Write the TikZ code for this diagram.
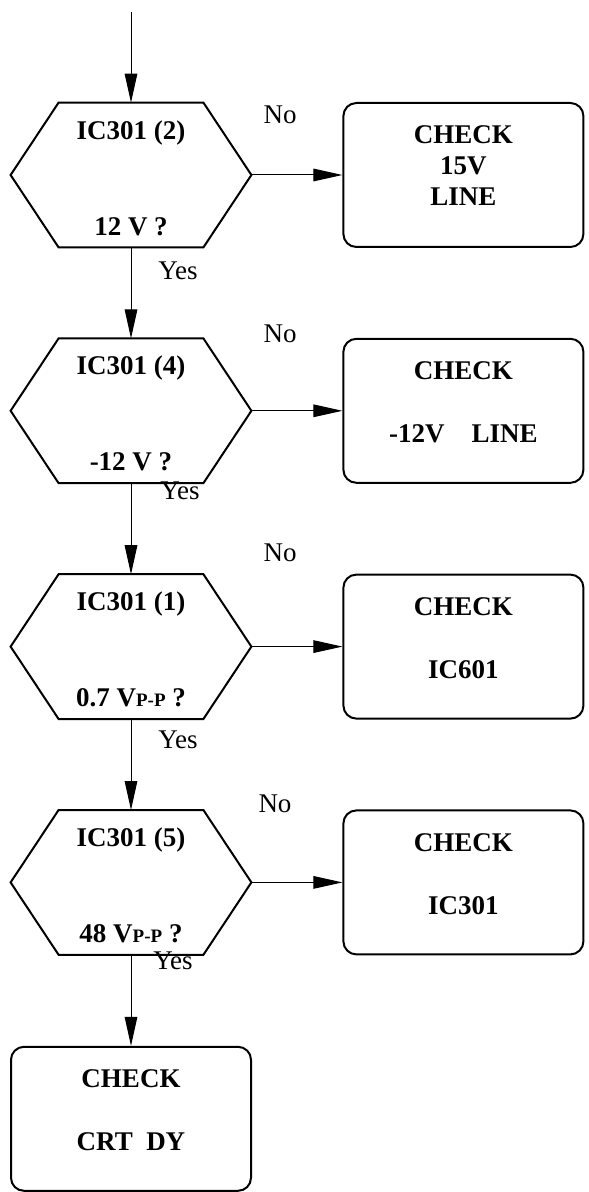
\documentclass[tikz,border=0pt]{standalone}
\usepackage{fontspec}
\setmainfont{Liberation Serif}
\usetikzlibrary{positioning}
\usetikzlibrary{calc}
\usetikzlibrary{arrows.meta}

\newcommand{\vpp}{V{\fontsize{9.5}{11}\selectfont P-P}}

\begin{document}
\begin{tikzpicture}[x=0.5pt, y=0.5pt,
        node distance=45.5pt,
        decision/.style={minimum width=120pt, minimum height=72pt, inner sep=0pt},
        checkbox/.style={draw, line width=1pt, rounded corners=6.5pt, minimum width=120pt, minimum height=72pt, inner sep=0pt},
        boxtext/.style={font=\bfseries\fontsize{13.5}{15.5}\selectfont, align=center, inner sep=0pt},
        answer/.style={font=\fontsize{13.5}{15.5}\selectfont, inner sep=0pt},
        flow/.style={line width=0.5pt, -{Triangle[length=14.5pt, width=6.3pt]}}]
        \useasboundingbox (0,0) rectangle (588,-1192);

        % Decisoes
        \node[decision] (q1) at (131,-175) {};
        \node[decision, below=of q1] (q2) {};
        \node[decision, below=of q2] (q3) {};
        \node[decision, below=of q3] (q4) {};
        \coordinate[above=of q1] (start);

        % Caixas CHECK
        \node[checkbox, right=of q1] (c1) {};
        \node[checkbox, right=of q2] (c2) {};
        \node[checkbox, right=of q3] (c3) {};
        \node[checkbox, right=of q4] (c4) {};
        \node[checkbox, below=of q4] (c5) {};

        \node[boxtext] (c1t) at ([yshift=4.5pt]c1.center) {CHECK\\15V\\LINE};
        \node[boxtext] (c2t) at ([yshift=4.5pt]c2.center) {CHECK\\[16pt]-12V\quad LINE};
        \node[boxtext] (c3t) at ([yshift=4pt]c3.center) {CHECK\\[16pt]IC601};
        \node[boxtext] (c4t) at ([yshift=4pt]c4.center) {CHECK\\[16pt]IC301};
        \node[boxtext] (c5t) at ([yshift=4.25pt]c5.center) {CHECK\\[16pt]CRT\enspace DY};

        % Hexagonos com os textos
        \foreach \n/\pin/\volt in {q1/{IC301 (2)}/{12 V ?}, q2/{IC301 (4)}/{-12 V ?}, q3/{IC301 (1)}/{0.7 \vpp\ ?}, q4/{IC301 (5)}/{48 \vpp\ ?}}
        {
        \draw[line width=1pt] (\n.west) -- ([xshift=24pt]\n.north west) -- ([xshift=-24pt]\n.north east) -- (\n.east) -- ([xshift=-24pt]\n.south east) -- ([xshift=24pt]\n.south west) -- cycle;
        \node[boxtext] (\n pin) at ([yshift=-15pt]\n.north) {\pin};
        \node[boxtext] (\n volt) at ([yshift=10.5pt]\n.south) {\volt};
        }

        % Respostas
        \foreach \n/\dx/\dy in {q1/47/-23, q2/49/-8, q3/47/-21, q4/42/-6}
        {
        \node[answer] (\n yes) at ([shift={(\dx,\dy)}]\n.south) {Yes};
        }
        \foreach \n/\dx/\dy in {q1/149/-12, q2/149/5, q3/149/21, q4/144/6}
        {
        \node[answer] (\n no) at ([shift={(\dx,\dy)}]\n.north) {No};
        }

        % Setas
        \draw[flow] (start) -- (q1.north);
        \draw[flow] (q1.south) -- (q2.north);
        \draw[flow] (q2.south) -- (q3.north);
        \draw[flow] (q3.south) -- (q4.north);
        \draw[flow] (q4.south) -- (c5.north);
        \foreach \i in {1,...,4}
        {
        \draw[flow] (q\i.east) -- (c\i.west);
        }
    \end{tikzpicture}
\end{document}
